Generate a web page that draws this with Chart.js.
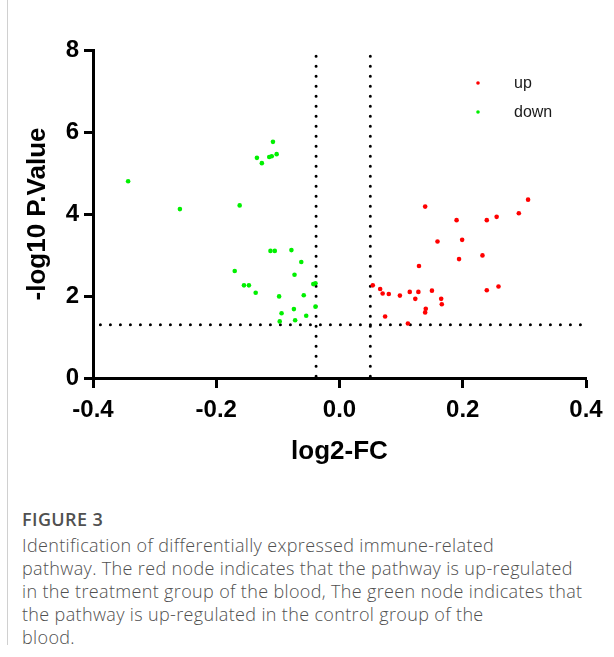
<!DOCTYPE html>
<html>
<head>
<meta charset="utf-8">
<script src="https://cdn.jsdelivr.net/npm/chart.js@4.4.1/dist/chart.umd.min.js"></script>
<style>
  html, body { margin: 0; padding: 0; background: #fff; }
  body { width: 614px; height: 657px; position: relative; overflow: hidden; }
  #edge { position: absolute; left: 7px; top: 0; width: 1px; height: 645px; background: #d0d0d0; }
  #chart-box { position: absolute; left: 0; top: 0; width: 614px; height: 470px; }
  #caption { position: absolute; left: 22px; top: 505px; width: 590px; font-family: "Open Sans", "Noto Sans", sans-serif; color: #505050; }
  #caption .fig { font-size: 18px; font-weight: 600; line-height: 28px; letter-spacing: 0.4px; }
  #caption .txt { font-size: 18px; font-weight: 300; line-height: 23px; letter-spacing: 0.35px; margin-top: 1px; }
</style>
</head>
<body>
<div id="edge"></div>
<div id="chart-box"><canvas id="volcano-chart" width="614" height="470"></canvas></div>
<div id="caption">
  <div class="fig">FIGURE 3</div>
  <div class="txt">Identification of differentially expressed immune-related<br>pathway. The red node indicates that the pathway is up-regulated<br>in the treatment group of the blood, The green node indicates that<br>the pathway is up-regulated in the control group of the<br>blood.</div>
</div>
<script>
// red points (up)
var up_x = [0.139, 0.159, 0.129, 0.054, 0.066, 0.070, 0.080, 0.098, 0.114, 0.128, 0.123, 0.150, 0.140, 0.139,
    0.074, 0.111, 0.165, 0.166, 0.190, 0.199, 0.194, 0.232, 0.239, 0.255, 0.291, 0.306, 0.239, 0.258];
var up_y = [4.18, 3.33, 2.73, 2.26, 2.17, 2.06, 2.05, 2.01, 2.10, 2.10, 1.93, 2.13, 1.69, 1.60,
    1.50, 1.33, 1.93, 1.80, 3.85, 3.37, 2.90, 2.99, 3.85, 3.93, 4.02, 4.35, 2.14, 2.23];

// green points (down)
var down_x = [-0.343, -0.259, -0.108, -0.134, -0.126, -0.114, -0.110, -0.102, -0.162, -0.112, -0.105, -0.078,
    -0.062, -0.170, -0.155, -0.147, -0.136, -0.073, -0.0425, -0.039, -0.098, -0.058, -0.039, -0.094,
    -0.074, -0.054, -0.072, -0.097];
var down_y = [4.80, 4.12, 5.76, 5.37, 5.24, 5.39, 5.41, 5.46, 4.21, 3.10, 3.10, 3.12,
    2.83, 2.61, 2.26, 2.26, 2.08, 2.52, 2.29, 2.31, 1.99, 2.02, 1.74, 1.58,
    1.68, 1.52, 1.41, 1.38];

var series_labels = ['up', 'down'];
var series_colors = ['#ff0000', '#00f000'];

var x_ticks = ['-0.4', '-0.2', '0.0', '0.2', '0.4'];
var y_ticks = ['0', '2', '4', '6', '8'];

// cut-off lines
var fc_low = -0.038;
var fc_high = 0.05;
var p_cut = 1.3;

function toPoints(xs, ys) {
    var pts = [];
    for (var i = 0; i < xs.length; i++) {
        pts.push({ x: xs[i], y: ys[i] });
    }
    return pts;
}

var cutLines = {
    id: 'cutLines',
    beforeDatasetsDraw: function (chart) {
        var ctx = chart.ctx;
        var xs = chart.scales.x;
        var ys = chart.scales.y;
        ctx.save();
        ctx.strokeStyle = '#000';
        ctx.lineWidth = 3;
        ctx.lineCap = 'round';
        ctx.setLineDash([0, 10]);
        [fc_low, fc_high].forEach(function (v) {
            ctx.beginPath();
            ctx.moveTo(xs.getPixelForValue(v), ys.getPixelForValue(7.85));
            ctx.lineTo(xs.getPixelForValue(v), ys.getPixelForValue(-0.1));
            ctx.stroke();
        });
        ctx.beginPath();
        ctx.moveTo(xs.getPixelForValue(-0.388), ys.getPixelForValue(p_cut));
        ctx.lineTo(xs.getPixelForValue(0.392), ys.getPixelForValue(p_cut));
        ctx.stroke();
        ctx.restore();
    }
};

var cornerLegend = {
    id: 'cornerLegend',
    afterDraw: function (chart) {
        var ctx = chart.ctx;
        ctx.save();
        ctx.font = '16px "Liberation Sans", Arial, sans-serif';
        ctx.textBaseline = 'middle';
        chart.data.datasets.forEach(function (ds, i) {
            var y = 83 + i * 29;
            ctx.fillStyle = ds.backgroundColor;
            ctx.beginPath();
            ctx.arc(478, y, 1.8, 0, Math.PI * 2);
            ctx.fill();
            ctx.fillStyle = '#1a1a1a';
            ctx.fillText(ds.label, 514, y + 1);
        });
        ctx.restore();
    }
};

Chart.defaults.font.family = '"Liberation Sans", Arial, sans-serif';
Chart.defaults.color = '#000';

var VolcanoChart = new Chart(document.getElementById('volcano-chart'), {
    type: 'scatter',
    data: {
        datasets: [{
            label: series_labels[0],
            data: toPoints(up_x, up_y),
            backgroundColor: series_colors[0],
            borderWidth: 0,
            pointRadius: 2.3
        }, {
            label: series_labels[1],
            data: toPoints(down_x, down_y),
            backgroundColor: series_colors[1],
            borderWidth: 0,
            pointRadius: 2.3
        }]
    },
    plugins: [cutLines, cornerLegend],
    options: {
        responsive: false,
        animation: false,
        layout: { padding: { left: 0, top: 50, right: 28, bottom: 0 } },
        plugins: {
            legend: { display: false },
            tooltip: { enabled: false }
        },
        scales: {
            x: {
                type: 'linear',
                min: -0.4,
                max: 0.4,
                afterFit: function (scale) { scale.height = 92; },
                afterBuildTicks: function (scale) {
                    scale.ticks = x_ticks.map(function (t) { return { value: parseFloat(t) }; });
                },
                ticks: {
                    font: { size: 24, weight: 'bold' },
                    padding: 8,
                    maxRotation: 0,
                    callback: function (value, index) { return x_ticks[index]; }
                },
                grid: { drawOnChartArea: false, tickLength: 10, tickWidth: 3, tickColor: '#000' },
                border: { display: true, width: 3, color: '#000' },
                title: {
                    display: true,
                    text: 'log2-FC',
                    font: { size: 26, weight: 'bold' },
                    padding: { top: 0, bottom: 3 }
                }
            },
            y: {
                type: 'linear',
                min: 0,
                max: 8,
                afterFit: function (scale) { scale.width = 93; },
                afterBuildTicks: function (scale) {
                    scale.ticks = y_ticks.map(function (t) { return { value: parseFloat(t) }; });
                },
                ticks: {
                    font: { size: 24, weight: 'bold' },
                    padding: 5,
                    callback: function (value, index) { return y_ticks[index]; }
                },
                grid: { drawOnChartArea: false, tickLength: 9, tickWidth: 3, tickColor: '#000' },
                border: { display: true, width: 3, color: '#000' },
                title: {
                    display: true,
                    text: '-log10 P.Value',
                    font: { size: 26, weight: 'bold' },
                    padding: { top: 22, bottom: 0 }
                }
            }
        }
    }
});
</script>
</body>
</html>
